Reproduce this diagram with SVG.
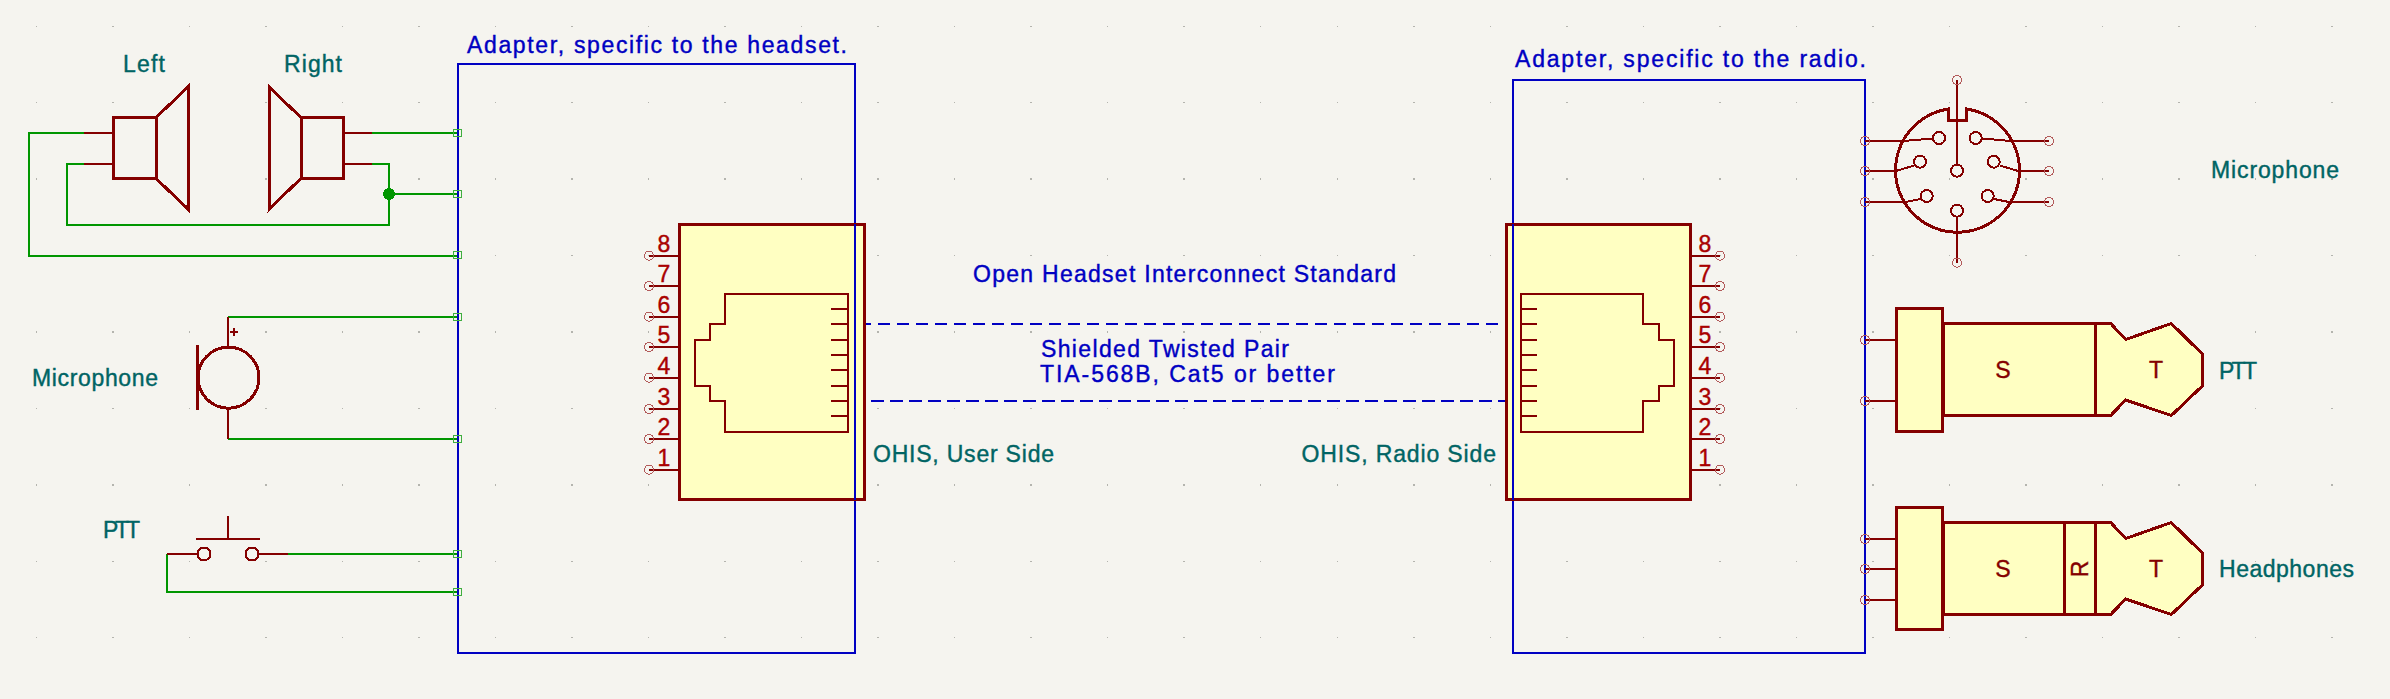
<svg xmlns="http://www.w3.org/2000/svg" width="2390" height="699" viewBox="0 0 2390 699">
<style>
.grid{stroke:#b4b4ae;stroke-width:1.5;stroke-dasharray:1.5 75.03;fill:none}
.s{fill:none;stroke:#840000;stroke-width:3;stroke-linejoin:miter}
.f{fill:#ffffc2;stroke:#840000;stroke-width:3}
.t{fill:none;stroke:#840000;stroke-width:2}
.w{fill:none;stroke:#009600;stroke-width:2}
.b{fill:none;stroke:#0000c2;stroke-width:2}
.d{fill:none;stroke:#0000c2;stroke-width:2;stroke-dasharray:12.5 6.5}
.e{fill:none;stroke:#3fae3f;stroke-width:1}
.p{fill:none;stroke:#b25a5a;stroke-width:1}
rect,path,circle{shape-rendering:crispEdges}
text{font-family:"Liberation Sans",Arial,sans-serif;font-size:23px;stroke-width:.4}
.tb{fill:#0000c2;stroke:#0000c2}
.tt{fill:#006464;stroke:#006464}
.tr{fill:#840000;stroke:#840000}
.n{fill:#a90000;stroke:#a90000;text-anchor:middle}
</style>
<rect width="2390" height="699" fill="#f5f4ef"/>
<g id="grid">
<path class="grid" d="M35.5 26.3H2390M35.5 102.7H2390M35.5 179.2H2390M35.5 255.6H2390M35.5 332H2390M35.5 408.4H2390M35.5 484.9H2390M35.5 561.3H2390M35.5 637.7H2390"/>
</g>
<g id="connectors">
<path class="w" d="M84 133H29V256H457"/>
<path class="w" d="M84 164H67V225H389V164H372"/>
<path class="w" d="M372 133H457"/>
<path class="w" d="M389 194H457"/>
<circle cx="389" cy="194" r="6" fill="#009600"/>
<path class="w" d="M228 317H457"/>
<path class="w" d="M228 439H457"/>
<path class="w" d="M288 554H457"/>
<path class="w" d="M167 554V592H457"/>
<path class="d" stroke-dashoffset="5.500" style="stroke-dashoffset:5.500" d="M864 324H1498"/>
<path class="d" d="M871 401H1506"/>
</g>
<g id="adapter-headset">
<rect class="b" x="458" y="64" width="397" height="589"/>
<text class="tb" x="467" y="52.7" textLength="380">Adapter, specific to the headset.</text>
</g>
<g id="adapter-radio">
<rect class="b" x="1513" y="80" width="352" height="573"/>
<text class="tb" x="1515" y="67.3" textLength="351">Adapter, specific to the radio.</text>
</g>
<g id="terminals">
<g class="e">
<rect x="453.500" y="129.500" width="8" height="7"/>
<rect x="453.500" y="190.500" width="8" height="7"/>
<rect x="453.500" y="251.500" width="8" height="7"/>
<rect x="453.500" y="313.500" width="8" height="7"/>
<rect x="453.500" y="435.500" width="8" height="7"/>
<rect x="453.500" y="550.500" width="8" height="7"/>
<rect x="453.500" y="588.500" width="8" height="7"/>
</g>
</g>
<g id="speaker-left">
<path class="t" d="M84 133H113M84 164H113"/>
<path class="s" d="M113.500 117.500H156V178.500H113.500Z"/>
<path class="s" d="M156 117.500L188 87V209L156 178.500"/>
<text class="tt" x="123" y="71.700" textLength="42">Left</text>
</g>
<g id="speaker-right">
<path class="t" d="M343 133H372M343 164H372"/>
<path class="s" d="M301 117.500H343.500V178.500H301Z"/>
<path class="s" d="M301 117.500L269 87V209L301 178.500"/>
<text class="tt" x="284" y="71.700" textLength="58">Right</text>
</g>
<g id="microphone-left">
<path class="t" d="M228 317V347M228 409V439"/>
<circle class="s" cx="228.500" cy="377.700" r="30.500"/>
<path class="s" d="M197.500 345V409.500"/>
<path class="t" d="M230 332H238M234 328V336"/>
<text class="tt" x="32" y="385.700" textLength="126">Microphone</text>
</g>
<g id="ptt-switch">
<path class="t" d="M167 554H197M259 554H288M196 539H260M228 516V539"/>
<circle class="t" cx="204" cy="554" r="6.500"/>
<circle class="t" cx="252" cy="554" r="6.500"/>
<text class="tt" x="103" y="538" textLength="37">PTT</text>
</g>
<g id="jack-user">
<rect class="f" x="679" y="224.500" width="185" height="275"/>
<path class="t" d="M649 255.700H679M649 286H679M649 316.700H679M649 347H679M649 377.700H679M649 409H679M649 439H679M649 469.700H679"/>
<g class="p">
<circle cx="649" cy="255.700" r="4.500"/><circle cx="649" cy="286" r="4.500"/><circle cx="649" cy="316.700" r="4.500"/><circle cx="649" cy="347" r="4.500"/><circle cx="649" cy="377.700" r="4.500"/><circle cx="649" cy="409" r="4.500"/><circle cx="649" cy="439" r="4.500"/><circle cx="649" cy="469.700" r="4.500"/>
</g>
<path class="t" d="M725 294V324H710V340H695V386H710V401H725V432H848V294ZM831 309H848M831 324H848M831 340H848M831 355H848M831 370H848M831 385.700H848M831 401H848M831 416H848"/>
<text class="n" x="664" y="252">8</text><text class="n" x="664" y="282">7</text><text class="n" x="664" y="313">6</text><text class="n" x="664" y="343">5</text><text class="n" x="664" y="374">4</text><text class="n" x="664" y="405">3</text><text class="n" x="664" y="435">2</text><text class="n" x="664" y="466">1</text>
<text class="tt" x="873" y="461.700" textLength="181">OHIS, User Side</text>
</g>
<g id="jack-radio">
<rect class="f" x="1506" y="224.500" width="184" height="275"/>
<path class="t" d="M1690 255.700H1720M1690 286H1720M1690 316.700H1720M1690 347H1720M1690 377.700H1720M1690 409H1720M1690 439H1720M1690 469.700H1720"/>
<g class="p">
<circle cx="1720" cy="255.700" r="4.500"/><circle cx="1720" cy="286" r="4.500"/><circle cx="1720" cy="316.700" r="4.500"/><circle cx="1720" cy="347" r="4.500"/><circle cx="1720" cy="377.700" r="4.500"/><circle cx="1720" cy="409" r="4.500"/><circle cx="1720" cy="439" r="4.500"/><circle cx="1720" cy="469.700" r="4.500"/>
</g>
<path class="t" d="M1643 294V324H1659V340H1674V386H1659V401H1643V432H1521V294ZM1521 309H1537M1521 324H1537M1521 340H1537M1521 355H1537M1521 370H1537M1521 385.700H1537M1521 401H1537M1521 416H1537"/>
<text class="n" x="1705" y="252">8</text><text class="n" x="1705" y="282">7</text><text class="n" x="1705" y="313">6</text><text class="n" x="1705" y="343">5</text><text class="n" x="1705" y="374">4</text><text class="n" x="1705" y="405">3</text><text class="n" x="1705" y="435">2</text><text class="n" x="1705" y="466">1</text>
<text class="tt" x="1301.500" y="461.700" textLength="194.500">OHIS, Radio Side</text>
</g>
<g id="blue-overlay">
<path class="b" d="M855 224V500M1513 224V500"/>
</g>
<g id="cable-labels">
<text class="tb" x="973" y="281.700" textLength="423">Open Headset Interconnect Standard</text>
<text class="tb" x="1041" y="356.700" textLength="248">Shielded Twisted Pair</text>
<text class="tb" x="1040" y="381.700" textLength="295">TIA-568B, Cat5 or better</text>
</g>
<g id="din-connector">
<path class="s" d="M1948.300 109V120.300H1966.700V109A62 62 0 1 1 1948.300 109Z"/>
<path class="t" d="M1957 80V165M1957 217V262.700M1865 141H1903L1933 138.500M1865 171H1896L1914 165.500M1865 202H1905L1921 199M2049 141H2011L1982 138.500M2049 171H2018L2000 165.500M2049 202H2009L1994 199"/>
<g class="t">
<circle cx="1957" cy="170.700" r="6"/><circle cx="1957" cy="210.700" r="6"/><circle cx="1939" cy="138" r="6"/><circle cx="1920" cy="161.700" r="6"/><circle cx="1926.700" cy="196" r="6"/><circle cx="1975.700" cy="138" r="6"/><circle cx="1993.700" cy="161.700" r="6"/><circle cx="1987.700" cy="196" r="6"/>
</g>
<g class="p">
<circle cx="1957" cy="80" r="4.500"/><circle cx="1957" cy="262.700" r="4.500"/><circle cx="1865" cy="141" r="4.500"/><circle cx="1865" cy="171" r="4.500"/><circle cx="1865" cy="202" r="4.500"/><circle cx="2049" cy="141" r="4.500"/><circle cx="2049" cy="171" r="4.500"/><circle cx="2049" cy="202" r="4.500"/>
</g>
<text class="tt" x="2211" y="178" textLength="128">Microphone</text>
</g>
<g id="jack-ptt">
<path class="t" d="M1865 340H1896M1865 401H1896"/>
<circle class="p" cx="1865" cy="340" r="4.500"/><circle class="p" cx="1865" cy="401" r="4.500"/>
<path class="f" d="M1943 323.500H2110.700L2125.700 339.500L2171.300 323.500L2202.300 354V386L2171.300 415.500L2125.700 400L2110.700 415.500H1943Z"/>
<rect class="f" x="1896" y="308.500" width="46.700" height="123"/>
<path class="s" d="M2095.300 323.500V415.500"/>
<text class="tr" x="2003" y="378" text-anchor="middle">S</text>
<text class="tr" x="2156" y="378" text-anchor="middle">T</text>
<text class="tt" x="2219" y="379" textLength="38">PTT</text>
</g>
<g id="jack-headphones">
<path class="t" d="M1865 539H1896M1865 569H1896M1865 600H1896"/>
<circle class="p" cx="1865" cy="539" r="4.500"/><circle class="p" cx="1865" cy="569" r="4.500"/><circle class="p" cx="1865" cy="600" r="4.500"/>
<path class="f" d="M1943 522.500H2110.700L2125.700 538.500L2171.300 522.500L2202.300 553V585L2171.300 614.500L2125.700 599L2110.700 614.500H1943Z"/>
<rect class="f" x="1896" y="507.500" width="46.700" height="122"/>
<path class="s" d="M2064.300 522.500V614.500M2095.300 522.500V614.500"/>
<text class="tr" x="2003" y="577" text-anchor="middle">S</text>
<text class="tr" x="2156" y="577" text-anchor="middle">T</text>
<text class="tr" transform="translate(2087.500 569) rotate(-90)" text-anchor="middle">R</text>
<text class="tt" x="2219" y="577" textLength="135">Headphones</text>
</g>
</svg>
